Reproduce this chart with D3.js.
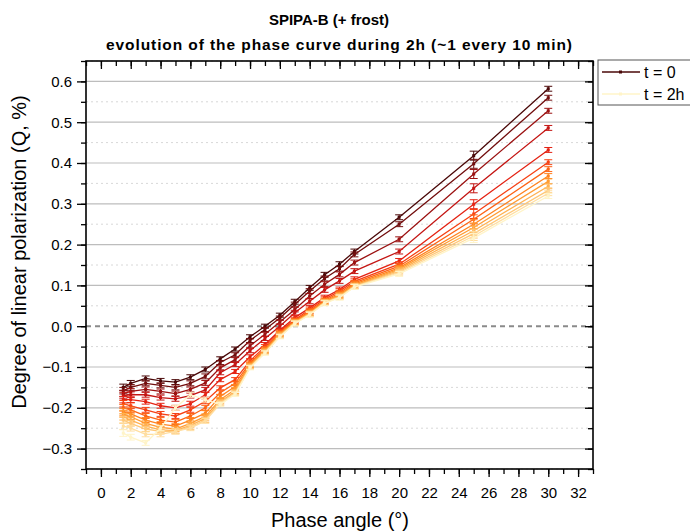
<!DOCTYPE html>
<html>
<head>
<meta charset="utf-8">
<script src="https://cdn.jsdelivr.net/npm/d3@7"></script>
<style>
  body { margin: 0; background: #fff; }
  text { font-family: "Liberation Sans", Arial, sans-serif; }
</style>
</head>
<body>
<div id="chart"></div>
<script>
// phase angles (deg)
const angles = [1.5, 2, 3, 4, 5, 6, 7, 8, 9, 10, 11, 12, 13, 14, 15, 16, 17, 20, 25, 30];

// Q (%) for each measurement, t = 0 ... t = 2h
const s0 = [-0.150, -0.140, -0.128, -0.134, -0.137, -0.125, -0.106, -0.080, -0.056, -0.026, 0.000, 0.027, 0.060, 0.094, 0.126, 0.152, 0.183, 0.267, 0.418, 0.582];
const s1 = [-0.158, -0.150, -0.140, -0.145, -0.150, -0.140, -0.123, -0.089, -0.070, -0.035, -0.008, 0.020, 0.053, 0.086, 0.117, 0.141, 0.176, 0.250, 0.398, 0.560];
const s2 = [-0.165, -0.160, -0.155, -0.160, -0.165, -0.155, -0.139, -0.102, -0.082, -0.048, -0.020, 0.010, 0.041, 0.074, 0.103, 0.127, 0.156, 0.213, 0.373, 0.528];
const s3 = [-0.170, -0.168, -0.168, -0.175, -0.178, -0.170, -0.156, -0.114, -0.094, -0.060, -0.030, 0.000, 0.033, 0.061, 0.089, 0.111, 0.135, 0.183, 0.338, 0.486];
const s4 = [-0.180, -0.180, -0.185, -0.195, -0.200, -0.190, -0.168, -0.131, -0.111, -0.075, -0.045, -0.010, 0.021, 0.045, 0.070, 0.090, 0.115, 0.160, 0.299, 0.432];
const s5 = [-0.190, -0.195, -0.205, -0.215, -0.220, -0.205, -0.184, -0.151, -0.131, -0.085, -0.050, -0.013, 0.016, 0.041, 0.066, 0.086, 0.110, 0.152, 0.275, 0.402];
const s6 = [-0.200, -0.205, -0.220, -0.230, -0.235, -0.220, -0.200, -0.163, -0.140, -0.090, -0.055, -0.016, 0.013, 0.037, 0.063, 0.082, 0.106, 0.147, 0.262, 0.385];
const s7 = [-0.210, -0.215, -0.230, -0.240, -0.245, -0.230, -0.213, -0.172, -0.148, -0.093, -0.058, -0.018, 0.011, 0.034, 0.061, 0.078, 0.103, 0.143, 0.250, 0.368];
const s8 = [-0.215, -0.222, -0.238, -0.248, -0.252, -0.238, -0.221, -0.180, -0.155, -0.096, -0.060, -0.020, 0.010, 0.032, 0.060, 0.076, 0.100, 0.140, 0.242, 0.355];
const s9 = [-0.222, -0.230, -0.245, -0.254, -0.256, -0.243, -0.226, -0.185, -0.160, -0.098, -0.062, -0.022, 0.009, 0.031, 0.059, 0.074, 0.099, 0.137, 0.234, 0.343];
const s10 = [-0.230, -0.238, -0.252, -0.258, -0.258, -0.247, -0.230, -0.188, -0.163, -0.100, -0.064, -0.024, 0.008, 0.030, 0.058, 0.072, 0.098, 0.134, 0.227, 0.333];
const s11 = [-0.245, -0.250, -0.265, -0.265, -0.258, -0.250, -0.232, -0.190, -0.165, -0.101, -0.065, -0.025, 0.007, 0.029, 0.057, 0.071, 0.097, 0.131, 0.221, 0.326];
const s12 = [-0.262, -0.272, -0.286, -0.250, -0.200, -0.168, -0.180, -0.192, -0.167, -0.102, -0.066, -0.026, 0.006, 0.028, 0.056, 0.070, 0.096, 0.128, 0.216, 0.319];
const series = [s0, s1, s2, s3, s4, s5, s6, s7, s8, s9, s10, s11, s12];

// error (half-width) per phase angle
const errs = [0.008, 0.007, 0.006, 0.006, 0.006, 0.006, 0.006, 0.005, 0.005, 0.005, 0.005, 0.005, 0.006, 0.006, 0.006, 0.006, 0.006, 0.006, 0.011, 0.006];

const xTicks = d3.range(0, 33, 2);
const yTicks = [-0.3, -0.2, -0.1, 0.0, 0.1, 0.2, 0.3, 0.4, 0.5, 0.6];
const legendLabels = ["t = 0", "t = 2h"];

const W = 690, H = 531;
const pL = 86, pR = 593, pT = 61, pB = 469;

const x = d3.scaleLinear().domain([-1, 33]).range([pL, pR]);
const y = d3.scaleLinear().domain([-0.35, 0.65]).range([pB, pT]);

const palette = d3.interpolateRgbBasis(["#4a0808", "#9a1212", "#f01414", "#ff6a10", "#ff9d2a", "#ffc878", "#fff4c8"]);
const color = i => palette(i / (series.length - 1));

const svg = d3.select("#chart").append("svg")
  .attr("width", W)
  .attr("height", H);

// grid
const minor = d3.range(-0.35, 0.651, 0.05).filter(v => Math.abs(Math.round(v * 20) % 2) === 1);
svg.append("g").selectAll("line").data(minor).enter().append("line")
  .attr("x1", pL).attr("x2", pR)
  .attr("y1", d => y(d)).attr("y2", d => y(d))
  .attr("stroke", "#d8d8d8").attr("stroke-width", 1)
  .attr("stroke-dasharray", "2,3");

svg.append("g").selectAll("line").data(yTicks.filter(v => v !== 0)).enter().append("line")
  .attr("x1", pL).attr("x2", pR)
  .attr("y1", d => y(d)).attr("y2", d => y(d))
  .attr("stroke", "#bdbdbd").attr("stroke-width", 1.2);

svg.append("line")
  .attr("x1", pL).attr("x2", pR)
  .attr("y1", y(0)).attr("y2", y(0))
  .attr("stroke", "#8a8a8a").attr("stroke-width", 2)
  .attr("stroke-dasharray", "5,4");

// series
const line = d3.line().x((d, i) => x(angles[i])).y(d => y(d));

series.forEach((s, k) => {
  const c = color(k);
  const g = svg.append("g");
  g.append("path")
    .attr("d", line(s))
    .attr("fill", "none")
    .attr("stroke", c)
    .attr("stroke-width", 1.3);

  g.selectAll(".eb").data(s).enter().append("path")
    .attr("d", (d, i) => {
      const px = x(angles[i]), y1 = y(d + errs[i]), y2 = y(d - errs[i]);
      return `M${px - 4},${y1}H${px + 4}M${px},${y1}V${y2}M${px - 4},${y2}H${px + 4}`;
    })
    .attr("fill", "none")
    .attr("stroke", c)
    .attr("stroke-width", 1);

  g.selectAll("rect").data(s).enter().append("rect")
    .attr("x", (d, i) => x(angles[i]) - 1.5)
    .attr("y", d => y(d) - 1.5)
    .attr("width", 3).attr("height", 3)
    .attr("fill", c);
});

// axes
const xMinor = d3.range(-1, 34, 1);
const yAll = d3.range(-0.35, 0.651, 0.05);

const axB = svg.append("g").attr("transform", `translate(0,${pB})`)
  .call(d3.axisBottom(x).tickValues(xMinor).tickSize(5).tickFormat(""));
const axB2 = svg.append("g").attr("transform", `translate(0,${pB})`)
  .call(d3.axisBottom(x).tickValues(xTicks).tickSize(8).tickPadding(10));
const axL = svg.append("g").attr("transform", `translate(${pL},0)`)
  .call(d3.axisLeft(y).tickValues(yAll).tickSize(5).tickFormat(""));
const axL2 = svg.append("g").attr("transform", `translate(${pL},0)`)
  .call(d3.axisLeft(y).tickValues(yTicks).tickSize(9).tickPadding(5).tickFormat(d3.format(".1f")));
const axT = svg.append("g").attr("transform", `translate(0,${pT})`)
  .call(d3.axisBottom(x).tickValues(xMinor).tickSize(5).tickFormat(""));
const axT2 = svg.append("g").attr("transform", `translate(0,${pT})`)
  .call(d3.axisBottom(x).tickValues(xTicks).tickSize(8).tickFormat(""));
const axR = svg.append("g").attr("transform", `translate(${pR},0)`)
  .call(d3.axisLeft(y).tickValues(yAll).tickSize(5).tickFormat(""));
const axR2 = svg.append("g").attr("transform", `translate(${pR},0)`)
  .call(d3.axisLeft(y).tickValues(yTicks).tickSize(8).tickFormat(""));

[axB, axB2, axL, axL2, axT, axT2, axR, axR2].forEach(a => {
  a.select(".domain").remove();
  a.selectAll("line").attr("stroke", "#000").attr("stroke-width", 1.3);
  a.selectAll("text").attr("font-size", 15).attr("fill", "#000")
    .style("font-family", "'Liberation Sans', Arial, sans-serif");
});

svg.append("rect")
  .attr("x", pL).attr("y", pT)
  .attr("width", pR - pL).attr("height", pB - pT)
  .attr("fill", "none").attr("stroke", "#000").attr("stroke-width", 1.6);

// titles
svg.append("text")
  .attr("x", 329).attr("y", 25)
  .attr("text-anchor", "middle")
  .attr("font-size", 15).attr("font-weight", "bold")
  .text("SPIPA-B (+ frost)");
svg.append("text")
  .attr("x", 339).attr("y", 50)
  .attr("text-anchor", "middle")
  .attr("font-size", 15.5).attr("font-weight", "bold")
  .attr("textLength", 466).attr("lengthAdjust", "spacing")
  .text("evolution of the phase curve during 2h (~1 every 10 min)");

svg.append("text")
  .attr("x", 340).attr("y", 527)
  .attr("text-anchor", "middle")
  .attr("font-size", 20)
  .text("Phase angle (°)");

svg.append("text")
  .attr("transform", "translate(26,252) rotate(-90)")
  .attr("text-anchor", "middle")
  .attr("font-size", 20)
  .text("Degree of linear polarization (Q, %)");

// legend
const lg = svg.append("g").attr("transform", "translate(598,60)");
lg.append("rect")
  .attr("width", 100).attr("height", 45)
  .attr("fill", "#fff").attr("stroke", "#555").attr("stroke-width", 1);
legendLabels.forEach((lab, i) => {
  const c = color(i === 0 ? 0 : series.length - 1);
  const ly = 12 + i * 22;
  lg.append("line").attr("x1", 4).attr("x2", 42).attr("y1", ly).attr("y2", ly)
    .attr("stroke", c).attr("stroke-width", 1.3);
  lg.append("rect").attr("x", 21).attr("y", ly - 1.5).attr("width", 3).attr("height", 3).attr("fill", c);
  lg.append("text").attr("x", 46).attr("y", ly + 5.5)
    .attr("font-size", 16).text(lab);
});
</script>
</body>
</html>
